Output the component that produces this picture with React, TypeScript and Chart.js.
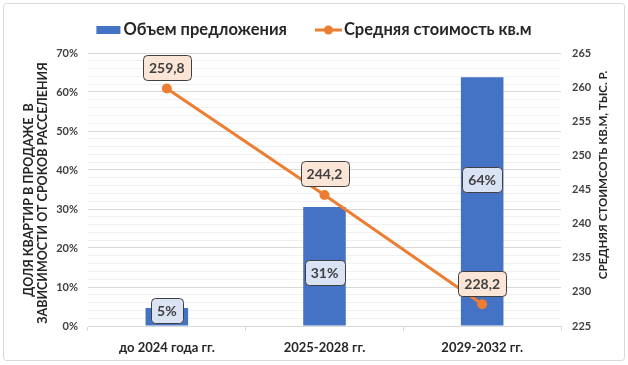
import React, { useEffect, useRef } from "react";
import { Chart, registerables } from "chart.js";

Chart.register(...registerables);

const categories = ["до 2024 года гг.", "2025-2028 гг.", "2029-2032 гг."];
const supplyShare = [0.046, 0.305, 0.638];
const supplyLabels = ["5%", "31%", "64%"];
const barLabelAnchor = [0.041, 0.138, 0.375];
const avgPrice = [259.8, 244.2, 228.2];
const priceLabels = ["259,8", "244,2", "228,2"];
const seriesNames = ["Объем предложения", "Средняя стоимость кв.м"];
const leftTitle = ["ДОЛЯ КВАРТИР В ПРОДАЖЕ  В", "ЗАВИСИМОСТИ ОТ СРОКОВ РАССЕЛЕНИЯ"];
const rightTitle = "СРЕДНЯЯ СТОИМСОТЬ КВ.М, ТЫС. Р.";

const FONT = 'Lato, "Open Sans", "Noto Sans", sans-serif';
const BLUE = "#4472c4";
const ORANGE = "#ed7d31";

const deco = {
  id: "deco",
  beforeDraw(chart: any) {
    const ctx = chart.ctx;
    ctx.save();
    ctx.fillStyle = "#ffffff";
    ctx.fillRect(0, 0, chart.width, chart.height);
    ctx.strokeStyle = "#d9d9d9";
    ctx.lineWidth = 1;
    ctx.beginPath();
    ctx.roundRect(3.5, 3.5, chart.width - 7, chart.height - 8, 3);
    ctx.stroke();
    ctx.restore();
  },
  afterDatasetsDraw(chart: any) {
    const ctx = chart.ctx;
    const y = chart.scales.y;
    const barMeta = chart.getDatasetMeta(0);
    const lineMeta = chart.getDatasetMeta(1);
    ctx.save();
    ctx.font = `bold 14px ${FONT}`;
    ctx.textAlign = "center";
    ctx.textBaseline = "middle";
    const box = (cx: number, cy: number, text: string, bg: string) => {
      const w = ctx.measureText(text).width + 12;
      const h = 25;
      ctx.beginPath();
      ctx.roundRect(Math.round(cx - w / 2) + 0.5, Math.round(cy - h / 2) + 0.5, Math.round(w), h, 4);
      ctx.fillStyle = bg;
      ctx.fill();
      ctx.strokeStyle = "#404040";
      ctx.lineWidth = 1;
      ctx.stroke();
      ctx.fillStyle = "#404040";
      ctx.fillText(text, cx, cy + 1);
    };
    barMeta.data.forEach((el: any, i: number) => {
      box(el.x, y.getPixelForValue(barLabelAnchor[i]), supplyLabels[i], "#dae3f3");
    });
    lineMeta.data.forEach((el: any, i: number) => {
      box(el.x, el.y - 21, priceLabels[i], "#fbe5d6");
    });
    ctx.restore();
  },
  afterDraw(chart: any) {
    const ctx = chart.ctx;
    ctx.save();
    // legend
    ctx.font = `bold 16.5px ${FONT}`;
    ctx.textBaseline = "middle";
    ctx.textAlign = "left";
    const w1 = ctx.measureText(seriesNames[0]).width;
    const w2 = ctx.measureText(seriesNames[1]).width;
    const total = 24 + 3 + w1 + 28 + 27 + 2 + w2;
    let x = chart.width / 2 - total / 2;
    const ly = 30;
    ctx.fillStyle = BLUE;
    ctx.fillRect(x, ly - 4, 24, 8);
    x += 27;
    ctx.fillStyle = "#262626";
    ctx.fillText(seriesNames[0], x, ly);
    x += w1 + 28;
    ctx.strokeStyle = ORANGE;
    ctx.lineWidth = 3;
    ctx.beginPath();
    ctx.moveTo(x, ly);
    ctx.lineTo(x + 27, ly);
    ctx.stroke();
    ctx.fillStyle = ORANGE;
    ctx.beginPath();
    ctx.arc(x + 13.5, ly, 4.5, 0, Math.PI * 2);
    ctx.fill();
    x += 29;
    ctx.fillStyle = "#262626";
    ctx.fillText(seriesNames[1], x, ly);

    // axis titles
    ctx.textAlign = "center";
    ctx.textBaseline = "middle";
    ctx.fillStyle = "#262626";
    const rot = (tx: number, ty: number, text: string) => {
      ctx.save();
      ctx.translate(tx, ty);
      ctx.rotate(-Math.PI / 2);
      ctx.fillText(text, 0, 0);
      ctx.restore();
    };
    ctx.font = `bold 12.5px ${FONT}`;
    rot(29, 200, leftTitle[0]);
    rot(43, 193, leftTitle[1]);
    ctx.font = `bold 11.5px ${FONT}`;
    rot(603, 175, rightTitle);
    ctx.restore();
  },
};

export default function App() {
  const ref = useRef<HTMLCanvasElement | null>(null);
  useEffect(() => {
    document.body.style.margin = "0";
    const canvas = ref.current!;
    const chart = new Chart(canvas, {
      type: "bar",
      data: {
        labels: categories,
        datasets: [
          {
            type: "bar",
            label: seriesNames[0],
            data: supplyShare,
            backgroundColor: BLUE,
            yAxisID: "y",
            barPercentage: 0.27,
            categoryPercentage: 1,
            order: 2,
          },
          {
            type: "line",
            label: seriesNames[1],
            data: avgPrice,
            borderColor: ORANGE,
            backgroundColor: ORANGE,
            borderWidth: 3,
            pointRadius: 5,
            pointBackgroundColor: ORANGE,
            pointBorderWidth: 0,
            yAxisID: "y1",
            order: 1,
          },
        ] as any,
      },
      options: {
        animation: false,
        responsive: false,
        devicePixelRatio: 1,
        layout: { padding: { left: 50, right: 37, top: 53, bottom: 0 } },
        plugins: { legend: { display: false }, tooltip: { enabled: false } },
        scales: {
          x: {
            offset: true,
            grid: {
              display: true,
              drawOnChartArea: false,
              offset: true,
              drawTicks: true,
              tickLength: 5,
              color: "#d9d9d9",
            },
            border: { display: true, color: "#d9d9d9" },
            ticks: {
              padding: 9,
              color: "#262626",
              font: { family: FONT, size: 13, weight: "bold" },
              maxRotation: 0,
            },
            afterFit(scale: any) {
              scale.height = 39;
            },
          },
          y: {
            position: "left",
            min: 0,
            max: 0.7,
            ticks: {
              stepSize: 0.02,
              autoSkip: false,
              padding: 10,
              color: "#404040",
              font: { family: FONT, size: 11, weight: "bold" },
              callback: (v: any) => {
                const p = Math.round(Number(v) * 100);
                return p % 10 === 0 ? p + "%" : "";
              },
            },
            grid: {
              drawTicks: false,
              color: (c: any) => {
                const p = Math.round(c.tick.value * 100);
                return p % 10 === 0 ? "#d9d9d9" : "#f0f0f0";
              },
            },
            border: { display: false },
            afterFit(scale: any) {
              scale.width = 38;
            },
          },
          y1: {
            position: "right",
            min: 225,
            max: 265,
            ticks: {
              stepSize: 5,
              padding: 11,
              color: "#404040",
              font: { family: FONT, size: 11, weight: "bold" },
            },
            grid: { drawOnChartArea: false, drawTicks: false },
            border: { display: false },
            afterFit(scale: any) {
              scale.width = 30;
            },
          },
        },
      } as any,
      plugins: [deco],
    });
    return () => chart.destroy();
  }, []);
  return (
    <div style={{ width: 628, height: 365 }}>
      <canvas ref={ref} width={628} height={365} style={{ display: "block" }} />
    </div>
  );
}
